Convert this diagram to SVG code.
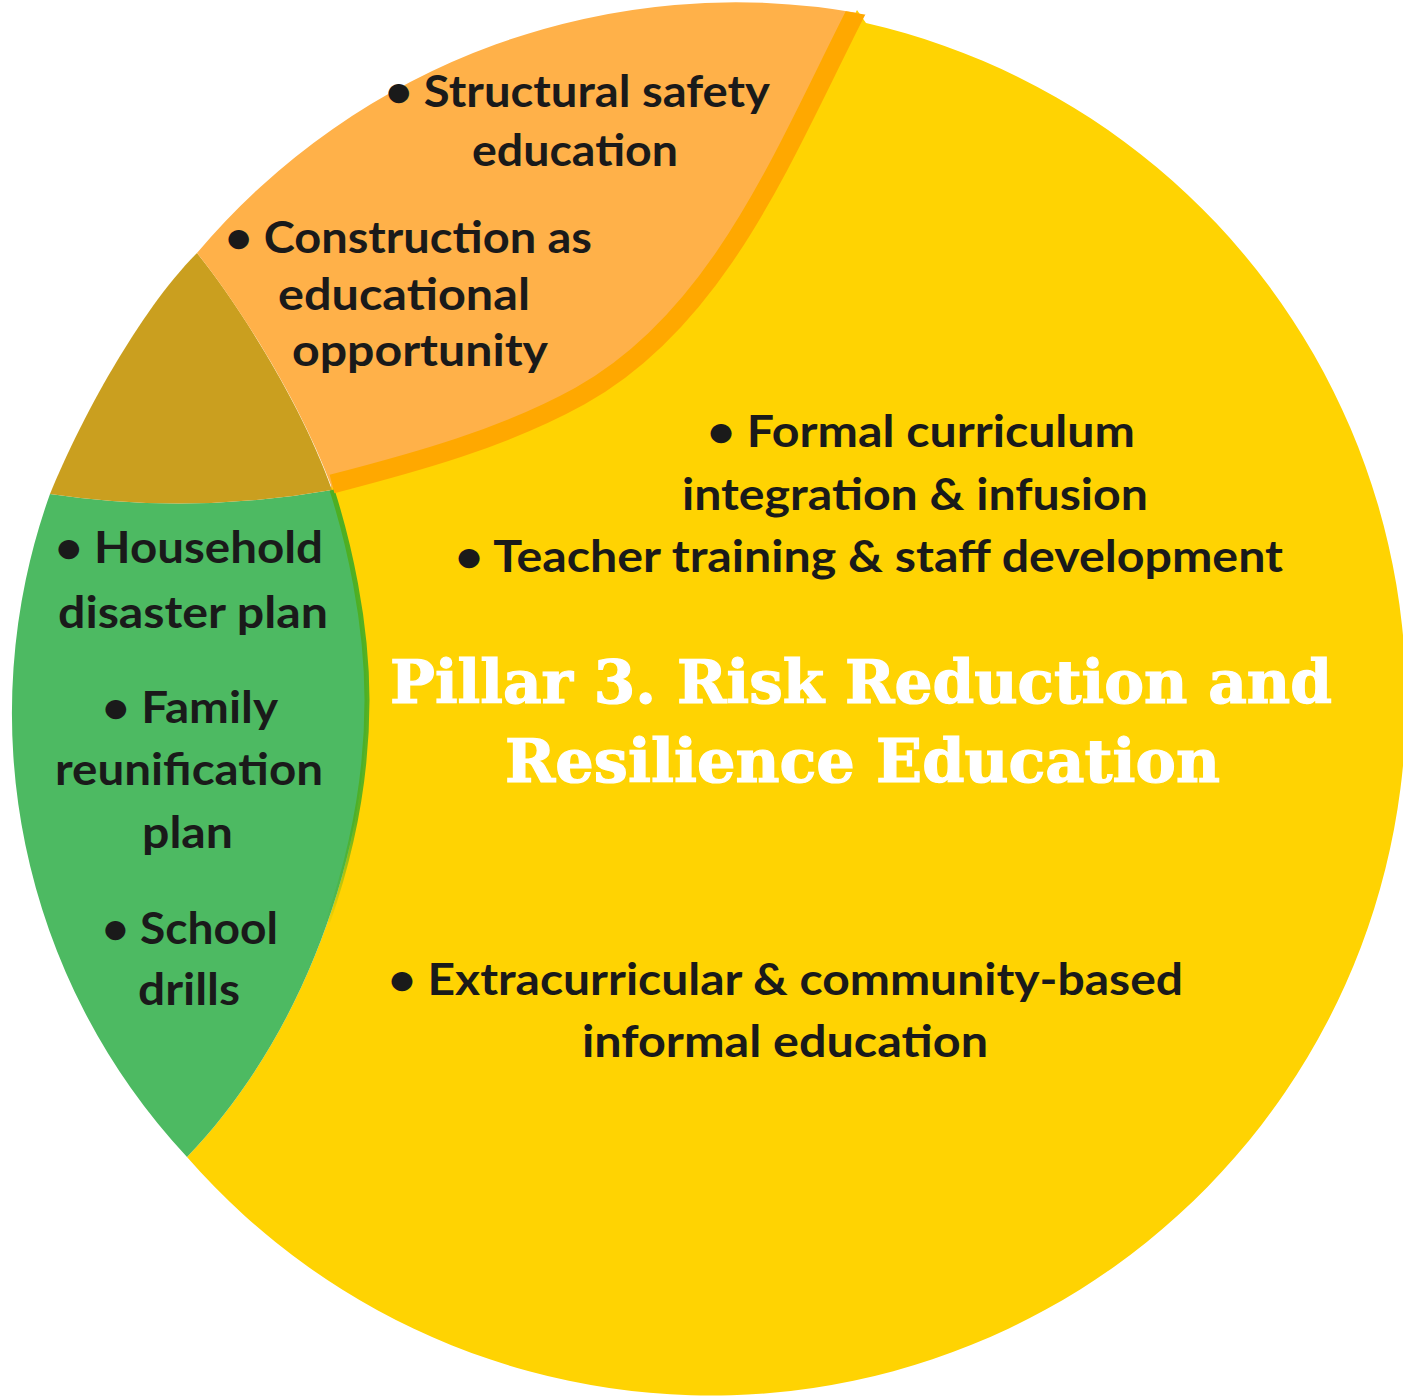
<svg xmlns="http://www.w3.org/2000/svg" width="1403" height="1397" viewBox="0 0 1403 1397">
  <style>
    .t { font-family: Lato, "Open Sans", "Liberation Sans", sans-serif; font-weight: 700; font-size: 43px; fill: #1a1a1a; }
    .title { font-family: "DejaVu Serif", "Liberation Serif", serif; font-weight: 700; font-size: 60px; fill: #ffffff; stroke: #ffffff; stroke-width: 1.2; }
  </style>
  <defs>
    <clipPath id="orangeCircle">
      <circle cx="733" cy="706" r="704"/>
    </clipPath>
    <linearGradient id="edgeFade" x1="0" y1="490" x2="0" y2="930" gradientUnits="userSpaceOnUse">
      <stop offset="0" stop-color="#4DAF22" stop-opacity="1"/>
      <stop offset="0.75" stop-color="#4DAF22" stop-opacity="0.9"/>
      <stop offset="1" stop-color="#4DAF22" stop-opacity="0"/>
    </linearGradient>
  </defs>
  <rect width="1403" height="1397" fill="#ffffff"/>

  <g id="yellow-segment">
    <path d="M866,23 A695,695 0 1 1 187,1157 C300,1040 367,860 367,700 C367,620 348,540 330,490 L332,484 C417,462 504,438 580,396 C720,318 784,153 857,10 Z" fill="#FFD302"/>
  </g>

  <g id="green-segment">
    <path d="M50,494 Q190,515 332,490 C348,540 367,620 367,700 C367,860 300,1040 187,1157 A650,650 0 0 1 50,494 Z" fill="#4DBA62"/>
    <path d="M332,490 C348,540 367,620 367,700 C367,860 300,1040 187,1157" fill="none" stroke="url(#edgeFade)" stroke-width="5" stroke-dasharray="440 3000"/>
  </g>

  <g id="overlap">
    <path d="M197,253 C140,310 80,420 50,494 Q190,515 332,490 C300,400 235,300 197,253 Z" fill="#CA9F1F"/>
  </g>

  <g id="orange-segment">
    <path d="M197,253 A704,704 0 0 1 858,13 C784,153 720,318 580,396 C504,438 417,462 332,488 C300,400 235,300 197,253 Z" fill="#FFB149"/>
    <path d="M863,0 L857,10 C784,153 720,318 580,396 C504,438 417,462 332,484" fill="none" stroke="#FFA800" stroke-width="19" clip-path="url(#orangeCircle)"/>
  </g>

  <g id="orange-text">
    <text class="t" x="385" y="107" textLength="385" lengthAdjust="spacingAndGlyphs">• Structural safety</text>
    <text class="t" x="472" y="166" textLength="206" lengthAdjust="spacingAndGlyphs">education</text>
    <text class="t" x="225" y="253" textLength="367" lengthAdjust="spacingAndGlyphs">• Construction as</text>
    <text class="t" x="278" y="310" textLength="252" lengthAdjust="spacingAndGlyphs">educational</text>
    <text class="t" x="292" y="366" textLength="256" lengthAdjust="spacingAndGlyphs">opportunity</text>
  </g>

  <g id="yellow-text">
    <text class="t" x="707" y="447" textLength="428" lengthAdjust="spacingAndGlyphs">• Formal curriculum</text>
    <text class="t" x="682" y="510" textLength="466" lengthAdjust="spacingAndGlyphs">integration &amp; infusion</text>
    <text class="t" x="455" y="572" textLength="828" lengthAdjust="spacingAndGlyphs">• Teacher training &amp; staff development</text>
    <text class="t" x="388" y="995" textLength="795" lengthAdjust="spacingAndGlyphs">• Extracurricular &amp; community-based</text>
    <text class="t" x="582" y="1057" textLength="406" lengthAdjust="spacingAndGlyphs">informal education</text>
  </g>

  <g id="title">
    <text class="title" x="390" y="703" textLength="942" lengthAdjust="spacingAndGlyphs">Pillar 3. Risk Reduction and</text>
    <text class="title" x="505" y="782" textLength="715" lengthAdjust="spacingAndGlyphs">Resilience Education</text>
  </g>

  <g id="green-text">
    <text class="t" x="55" y="563" textLength="268" lengthAdjust="spacingAndGlyphs">• Household</text>
    <text class="t" x="58" y="628" textLength="270" lengthAdjust="spacingAndGlyphs">disaster plan</text>
    <text class="t" x="102" y="723" textLength="176" lengthAdjust="spacingAndGlyphs">• Family</text>
    <text class="t" x="55" y="785" textLength="268" lengthAdjust="spacingAndGlyphs">reunification</text>
    <text class="t" x="142" y="848" textLength="91" lengthAdjust="spacingAndGlyphs">plan</text>
    <text class="t" x="102" y="944" textLength="176" lengthAdjust="spacingAndGlyphs">• School</text>
    <text class="t" x="138" y="1005" textLength="102" lengthAdjust="spacingAndGlyphs">drills</text>
  </g>
</svg>
